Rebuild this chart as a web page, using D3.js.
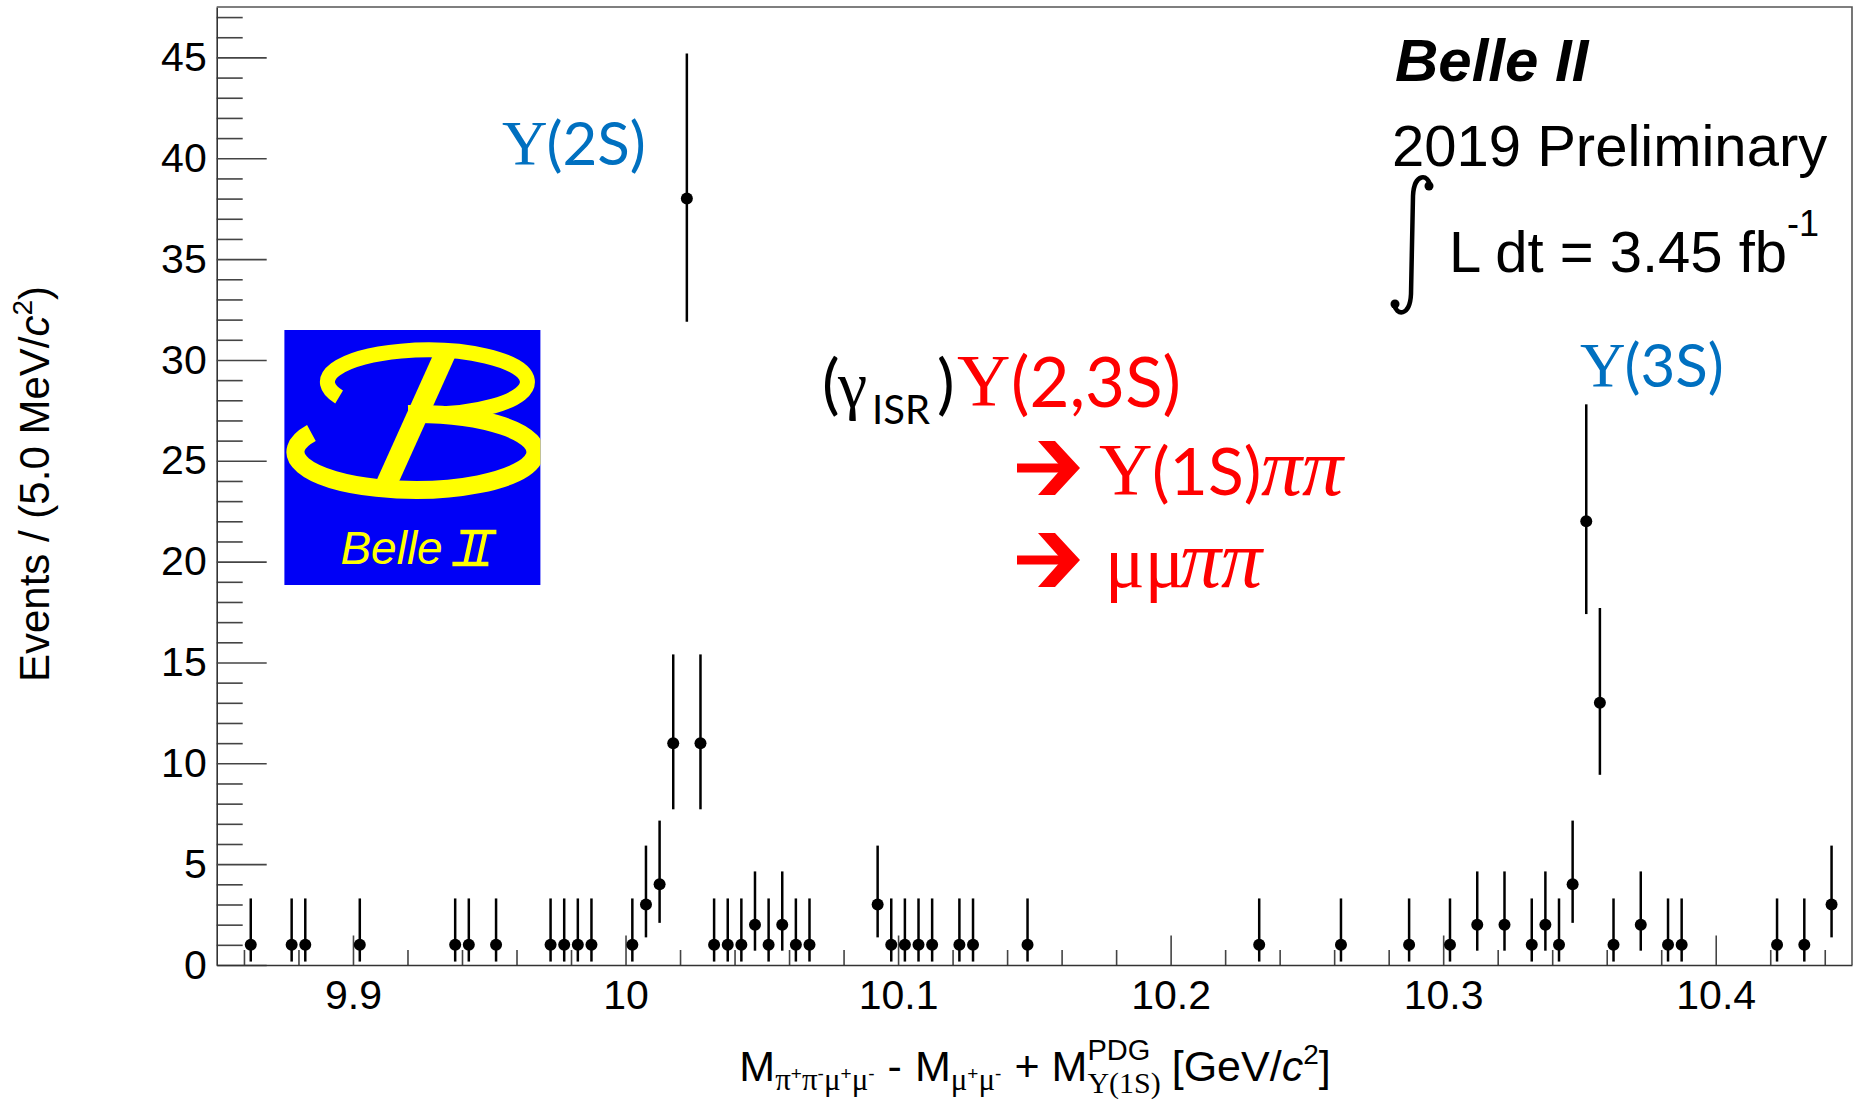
<!DOCTYPE html>
<html>
<head>
<meta charset="utf-8">
<script src="https://cdn.jsdelivr.net/npm/d3@7"></script>
<style>
    body { margin: 0; background: #fff; }
    svg { display: block; }
</style>
</head>
<body>
<svg id="canvas" width="1856" height="1101"></svg>
<script>
// bin centres (GeV/c^2), 5 MeV bins; only non-empty bins are drawn
var binCenters = [9.8625, 9.8775, 9.8825, 9.9025, 9.9375, 9.9425, 9.9525, 9.9725, 9.9775, 9.9825,
    9.9875, 10.0025, 10.0075, 10.0125, 10.0175, 10.0225, 10.0275, 10.0325, 10.0375, 10.0425,
    10.0475, 10.0525, 10.0575, 10.0625, 10.0675, 10.0925, 10.0975, 10.1025, 10.1075, 10.1125,
    10.1225, 10.1275, 10.1475, 10.2325, 10.2625, 10.2875, 10.3025, 10.3125, 10.3225, 10.3325,
    10.3375, 10.3425, 10.3475, 10.3525, 10.3575, 10.3625, 10.3725, 10.3825, 10.3875, 10.4225,
    10.4325, 10.4425];

var counts = [1, 1, 1, 1, 1, 1, 1, 1, 1, 1,
    1, 1, 3, 4, 11, 38, 11, 1, 1, 1,
    2, 1, 2, 1, 1, 3, 1, 1, 1, 1,
    1, 1, 1, 1, 1, 1, 1, 2, 2, 1,
    2, 1, 4, 22, 13, 1, 2, 1, 1, 1,
    1, 3];

// lower / upper ends of the (asymmetric) error bars
var errLow = [0.17, 0.17, 0.17, 0.17, 0.17, 0.17, 0.17, 0.17, 0.17, 0.17,
    0.17, 0.17, 1.37, 2.09, 7.72, 31.9, 7.72, 0.17, 0.17, 0.17,
    0.71, 0.17, 0.71, 0.17, 0.17, 1.37, 0.17, 0.17, 0.17, 0.17,
    0.17, 0.17, 0.17, 0.17, 0.17, 0.17, 0.17, 0.71, 0.71, 0.17,
    0.71, 0.17, 2.09, 17.4, 9.43, 0.17, 0.71, 0.17, 0.17, 0.17,
    0.17, 1.37];

var errHigh = [3.30, 3.30, 3.30, 3.30, 3.30, 3.30, 3.30, 3.30, 3.30, 3.30,
    3.30, 3.30, 5.92, 7.16, 15.4, 45.2, 15.4, 3.30, 3.30, 3.30,
    4.64, 3.30, 4.64, 3.30, 3.30, 5.92, 3.30, 3.30, 3.30, 3.30,
    3.30, 3.30, 3.30, 3.30, 3.30, 3.30, 3.30, 4.64, 4.64, 3.30,
    4.64, 3.30, 7.16, 27.8, 17.7, 3.30, 4.64, 3.30, 3.30, 3.30,
    3.30, 5.92];

var xTickLabels = [9.9, 10, 10.1, 10.2, 10.3, 10.4];
var yTickLabels = [0, 5, 10, 15, 20, 25, 30, 35, 40, 45];

var SANS = "'Liberation Sans', Arial, Helvetica, sans-serif";
var SERIF = "'Liberation Serif', 'Times New Roman', serif";
var OFFICE = "Lato, 'Open Sans', sans-serif";

var canvas = d3.select('#canvas');
canvas.append('rect').attr('width', 1856).attr('height', 1101).attr('fill', '#fff');

var x = d3.scaleLinear().domain([9.85, 10.45]).range([216.7, 1852]);
var y = d3.scaleLinear().domain([0, 47.5]).range([965, 7]);

// lay out a run of text pieces one after the other (sub/superscripts, mixed fonts)
function richText(parent, px, py, pieces, anchor) {
    var g = parent.append('g');
    var cx = 0, stackStart = 0, stackAdv = 0;
    pieces.forEach(function (p) {
        if (p.gap) {
            cx += p.gap;
            return;
        }
        var t = g.append('text')
            .attr('y', py + (p.dy || 0))
            .attr('font-family', p.family || SANS)
            .attr('font-size', p.size)
            .attr('font-style', p.style || 'normal')
            .attr('font-weight', p.weight || 'normal')
            .attr('fill', p.fill || '#000')
            .text(p.t);
        var w;
        if (p.stack) {
            t.attr('x', stackStart);
            w = t.node().getComputedTextLength();
            cx = stackStart + Math.max(stackAdv, w);
        } else {
            t.attr('x', cx);
            w = t.node().getComputedTextLength();
            stackStart = cx;
            stackAdv = w;
            cx += w;
        }
    });
    var shift = px;
    if (anchor === 'middle') shift = px - cx / 2;
    if (anchor === 'end') shift = px - cx;
    g.attr('transform', 'translate(' + shift + ',0)');
    return g;
}

// ---- axes ----
function styleAxis(g) {
    g.selectAll('path').attr('stroke', '#333').attr('stroke-width', 1.6);
    g.selectAll('line').attr('stroke', '#444').attr('stroke-width', 1.6);
    g.selectAll('text')
        .attr('font-family', SANS)
        .attr('font-size', 41)
        .attr('fill', '#000');
}

var yMinor = d3.range(1, 48).filter(function (d) { return d % 5 !== 0; });
var xMinor = d3.range(9.86, 10.45, 0.02).filter(function (d) {
    return Math.abs(d * 10 - Math.round(d * 10)) > 0.01;
});

var yAxisMinor = canvas.append('g')
    .attr('transform', 'translate(216.7,0)')
    .call(d3.axisLeft(y).tickValues(yMinor).tickSize(-26).tickFormat(''));
yAxisMinor.select('.domain').remove();
styleAxis(yAxisMinor);

var yAxis = canvas.append('g')
    .attr('transform', 'translate(216.7,0)')
    .call(d3.axisLeft(y).tickValues(yTickLabels).tickSize(-50).tickSizeOuter(0).tickPadding(10));
styleAxis(yAxis);

var xAxisMinor = canvas.append('g')
    .attr('transform', 'translate(0,965)')
    .call(d3.axisBottom(x).tickValues(xMinor).tickSize(-15).tickFormat(''));
xAxisMinor.select('.domain').remove();
styleAxis(xAxisMinor);

var xAxis = canvas.append('g')
    .attr('transform', 'translate(0,965)')
    .call(d3.axisBottom(x).tickValues(xTickLabels).tickSize(-29.5).tickSizeOuter(0)
        .tickPadding(15).tickFormat(d3.format('~g')));
styleAxis(xAxis);

// frame (top and right)
canvas.append('path')
    .attr('d', 'M216.7,7 H1852 V965')
    .attr('fill', 'none')
    .attr('stroke', '#555')
    .attr('stroke-width', 1.6);

// ---- axis titles ----
var yTitle = canvas.append('g').attr('transform', 'translate(49,484) rotate(-90)');
richText(yTitle, 0, 0, [
    {t: 'Events / (5.0 MeV/', size: 42},
    {t: 'c', size: 42, style: 'italic'},
    {t: '2', size: 28, dy: -17},
    {t: ')', size: 42}
], 'middle');

richText(canvas, 1035, 1081, [
    {t: 'M', size: 43},
    {t: 'π', size: 31, dy: 9, family: SERIF},
    {t: '+', size: 19, dy: -1},
    {t: 'π', size: 31, dy: 9, family: SERIF},
    {t: '-', size: 19, dy: -1},
    {t: 'μ', size: 31, dy: 9, family: SERIF},
    {t: '+', size: 19, dy: -1},
    {t: 'μ', size: 31, dy: 9, family: SERIF},
    {t: '-', size: 19, dy: -1},
    {gap: 13},
    {t: '-', size: 43},
    {gap: 13},
    {t: 'M', size: 43},
    {t: 'μ', size: 31, dy: 9, family: SERIF},
    {t: '+', size: 19, dy: -1},
    {t: 'μ', size: 31, dy: 9, family: SERIF},
    {t: '-', size: 19, dy: -1},
    {gap: 13},
    {t: '+', size: 43},
    {gap: 12},
    {t: 'M', size: 43},
    {t: 'PDG', size: 29, dy: -21},
    {t: 'Υ(1S)', size: 30, dy: 12, family: SERIF, stack: true},
    {gap: 11},
    {t: '[GeV/', size: 43},
    {t: 'c', size: 43, style: 'italic'},
    {t: '2', size: 28, dy: -17},
    {t: ']', size: 43}
], 'middle');

// ---- data: error bars + markers ----
var points = binCenters.map(function (d, i) {
    return {x: d, n: counts[i], lo: errLow[i], hi: errHigh[i]};
});

canvas.append('g').selectAll('line')
    .data(points)
    .enter()
    .append('line')
    .attr('x1', function (d) { return x(d.x); })
    .attr('x2', function (d) { return x(d.x); })
    .attr('y1', function (d) { return y(d.lo); })
    .attr('y2', function (d) { return y(d.hi); })
    .attr('stroke', '#000')
    .attr('stroke-width', 2.5);

canvas.append('g').selectAll('circle')
    .data(points)
    .enter()
    .append('circle')
    .attr('cx', function (d) { return x(d.x); })
    .attr('cy', function (d) { return y(d.n); })
    .attr('r', 6)
    .attr('fill', '#000');

// ---- Belle II labels (top right) ----
canvas.append('text')
    .attr('x', 1395).attr('y', 81)
    .attr('font-family', SANS).attr('font-size', 60)
    .attr('font-weight', 'bold').attr('font-style', 'italic')
    .text('Belle II');

canvas.append('text')
    .attr('x', 1392).attr('y', 166)
    .attr('font-family', SANS).attr('font-size', 58)
    .text('2019 Preliminary');

// integral sign
canvas.append('path')
    .attr('d', 'M1430,186 C1429,174 1414,172 1413,196 L1411,294 C1410,317 1396,316 1394,304')
    .attr('fill', 'none').attr('stroke', '#000').attr('stroke-width', 4.5);
canvas.append('circle').attr('cx', 1429).attr('cy', 186).attr('r', 4.5).attr('fill', '#000');
canvas.append('circle').attr('cx', 1395).attr('cy', 304).attr('r', 4.5).attr('fill', '#000');

richText(canvas, 1449, 272, [
    {t: 'L dt = 3.45 fb', size: 58},
    {t: '-1', size: 36, dy: -36}
], 'start');

// ---- resonance labels ----
function upsilonLabel(px, py, state, color, size) {
    var g = canvas.append('g');
    g.append('text').attr('x', px).attr('y', py)
        .attr('font-family', SERIF).attr('font-size', size * 1.05).attr('fill', color)
        .text('Υ');
    g.append('text').attr('x', px + size * 0.74).attr('y', py)
        .attr('font-family', OFFICE).attr('font-size', size).attr('fill', color)
        .text(state);
    return g;
}
upsilonLabel(502, 165, '(2S)', '#0070C0', 60);
upsilonLabel(1580, 387, '(3S)', '#0070C0', 60);

// (gamma_ISR) Y(2,3S)
canvas.append('text').attr('x', 822).attr('y', 407)
    .attr('font-family', OFFICE).attr('font-size', 66).text('(');
canvas.append('text').attr('x', 838).attr('y', 407)
    .attr('font-family', SERIF).attr('font-size', 66).text('γ');
canvas.append('text').attr('x', 872).attr('y', 424)
    .attr('font-family', OFFICE).attr('font-size', 40).text('ISR');
canvas.append('text').attr('x', 937).attr('y', 407)
    .attr('font-family', OFFICE).attr('font-size', 66).text(')');
canvas.append('text').attr('x', 957).attr('y', 406)
    .attr('font-family', SERIF).attr('font-size', 74).attr('fill', '#FF0000').text('Υ');
canvas.append('text').attr('x', 1011).attr('y', 407)
    .attr('font-family', OFFICE).attr('font-size', 69).attr('fill', '#FF0000').text('(2,3S)');

function redArrow(cy) {
    canvas.append('rect')
        .attr('x', 1017).attr('y', cy - 4.5).attr('width', 50).attr('height', 9)
        .attr('fill', '#FF0000');
    canvas.append('path')
        .attr('d', 'M1038,' + (cy - 27) + ' L1055,' + (cy - 27) + ' L1080,' + cy +
            ' L1055,' + (cy + 27) + ' L1038,' + (cy + 27) + ' L1062,' + cy + ' Z')
        .attr('fill', '#FF0000');
}
redArrow(468);
redArrow(560);

canvas.append('text').attr('x', 1099).attr('y', 495)
    .attr('font-family', SERIF).attr('font-size', 74).attr('fill', '#FF0000').text('Υ');
canvas.append('text').attr('x', 1152).attr('y', 495)
    .attr('font-family', OFFICE).attr('font-size', 66).attr('fill', '#FF0000').text('(1S)');
canvas.append('text').attr('x', 1261).attr('y', 495)
    .attr('font-family', SERIF).attr('font-size', 82).attr('font-style', 'italic')
    .attr('fill', '#FF0000').text('ππ');

canvas.append('text').attr('x', 1105).attr('y', 587)
    .attr('font-family', SERIF).attr('font-size', 74).attr('fill', '#FF0000').text('μμ');
canvas.append('text').attr('x', 1180).attr('y', 587)
    .attr('font-family', SERIF).attr('font-size', 82).attr('font-style', 'italic')
    .attr('fill', '#FF0000').text('ππ');

// ---- Belle II logo ----
var logo = canvas.append('g').attr('transform', 'translate(284.4,330)');
logo.append('clipPath').attr('id', 'logoClip')
    .append('rect').attr('width', 256).attr('height', 255);
logo.append('rect').attr('width', 256).attr('height', 255).attr('fill', '#0000F6');
var lg = logo.append('g').attr('clip-path', 'url(#logoClip)');
lg.append('path')
    .attr('d', 'M54.7,67 A100,32 0 1 1 125.6,83.5')
    .attr('fill', 'none').attr('stroke', '#FFFF00').attr('stroke-width', 15);
lg.append('path')
    .attr('d', 'M27,103 A120,38 0 1 0 123.7,84')
    .attr('fill', 'none').attr('stroke', '#FFFF00').attr('stroke-width', 18);
lg.append('path')
    .attr('d', 'M150,22 L173,22 L109,164 L86,164 Z')
    .attr('fill', '#FFFF00');
logo.append('text').attr('x', 56).attr('y', 234)
    .attr('font-family', SANS).attr('font-size', 46).attr('font-style', 'italic')
    .attr('fill', '#FFFF00').text('Belle');
// roman numeral II, slanted, with bars
lg.append('path')
    .attr('d', 'M176,202 H212 M168,234 H204 M188,202 L181,234 M201,202 L194,234')
    .attr('fill', 'none').attr('stroke', '#FFFF00').attr('stroke-width', 4.5);
</script>
</body>
</html>
